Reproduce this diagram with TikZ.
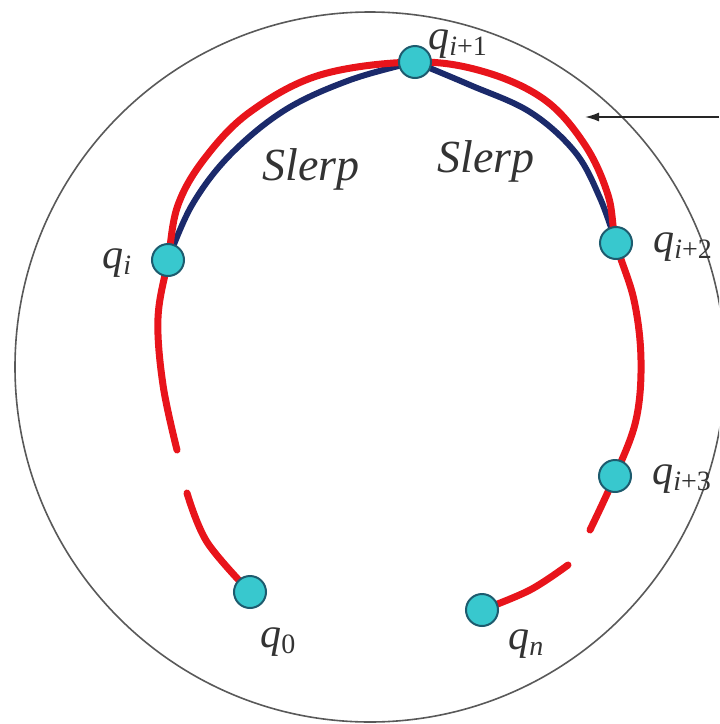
\documentclass[tikz,border=0pt]{standalone}
\usepackage{fontspec}
\setmainfont{Liberation Serif}
\usetikzlibrary{arrows.meta,backgrounds}
\definecolor{redc}{HTML}{E8141B}
\definecolor{navyc}{HTML}{1B2A6B}
\definecolor{cyanc}{HTML}{38C8CE}
\definecolor{edgec}{HTML}{1D5B6E}
\newcommand{\qsub}[2]{{\itshape q}\raisebox{-0.35ex}{\fontsize{14}{15}\selectfont {\itshape #1}{\upshape #2}}}
\begin{document}
\begin{tikzpicture}[x=0.5pt,y=-0.5pt,
  qpt/.style={circle,fill=cyanc,draw=edgec,line width=1pt,minimum size=16pt,inner sep=0pt},
  redline/.style={draw=redc,line width=3.5pt,line cap=round},
  navyline/.style={draw=navyc,line width=3pt,line cap=round},
  slerplab/.style={font=\fontsize{23}{25}\selectfont\itshape,inner sep=0pt,anchor=base west,text=black!80},
  qlab/.style={font=\fontsize{21}{23}\selectfont,inner sep=0pt,anchor=base west,text=black!80}]
\useasboundingbox (0,0) rectangle (719,724);
\begin{scope}
\clip (0,0) rectangle (719,724);
\draw[black!65,line width=0.8pt] (370,367) circle [radius=355];
\end{scope}

\node[qpt] (q1) at (168,260) {};
\node[qpt] (qi1) at (415,62) {};
\node[qpt] (qi2) at (616,243) {};
\node[qpt] (qi3) at (615,476) {};
\node[qpt] (q0) at (250,592) {};
\node[qpt] (qn) at (482,610) {};

\coordinate (lgapA) at (177,450);
\coordinate (lgapB) at (187,493);
\coordinate (rgapA) at (590,530);
\coordinate (rgapB) at (568,565);
\coordinate (arrowfrom) at (719,117);
\coordinate (arrowto) at (585,117);

\begin{scope}[on background layer]
\draw[navyline] plot[smooth,tension=0.6] coordinates {(q1.center) (192,205) (230,155) (285,110) (350,80) (qi1.center)};
\draw[navyline] plot[smooth,tension=0.6] coordinates {(qi1.center) (470,85) (530,112) (575,152) (600,198) (qi2.center)};
\draw[redline] plot[smooth,tension=0.6] coordinates {(lgapA) (163,385) (158,318) (q1.center) (178,205) (205,158) (250,112) (320,75) (qi1.center) (485,72) (545,100) (585,145) (608,195) (qi2.center) (634,300) (641,360) (636,420) (qi3.center) (rgapA)};
\draw[redline] plot[smooth,tension=0.6] coordinates {(lgapB) (207,542) (q0.center)};
\draw[redline] plot[smooth,tension=0.6] coordinates {(rgapB) (530,590) (qn.center)};
\end{scope}

\draw[black!85,line width=0.8pt,-{Latex[length=7pt,width=4.5pt]}] (arrowfrom) -- (arrowto);

\node[slerplab] (s1) at (262,180) {Slerp};
\node[slerplab] (s2) at (437,172) {Slerp};

\node[qlab] (lq1) at (102,268) {\qsub{i}{}};
\node[qlab] (lqi1) at (428,49) {\qsub{i}{+1}};
\node[qlab] (lqi2) at (653,252) {\qsub{i}{+2}};
\node[qlab] (lqi3) at (652,484) {\qsub{i}{+3}};
\node[qlab] (lq0) at (260,647) {\qsub{}{0}};
\node[qlab] (lqn) at (508,649) {\qsub{n}{}};
\end{tikzpicture}
\end{document}
